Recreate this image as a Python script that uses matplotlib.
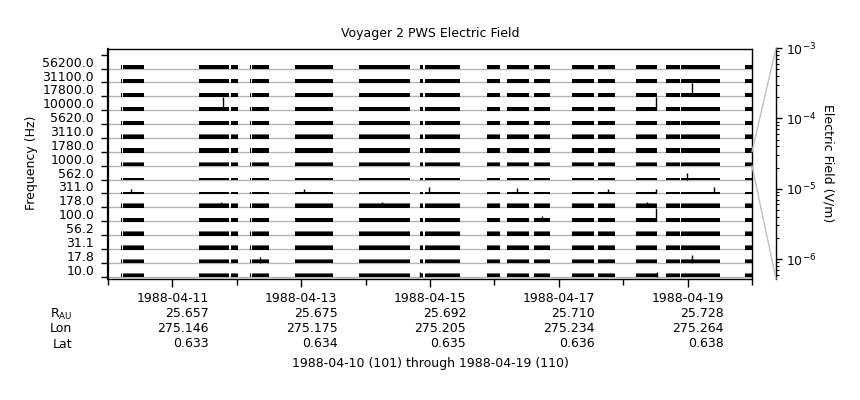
import numpy as np
import matplotlib
matplotlib.use('Agg')
import matplotlib.pyplot as plt
from matplotlib.patches import ConnectionPatch
from matplotlib.ticker import LogLocator, NullFormatter, FixedLocator

plt.rcParams['font.family'] = 'DejaVu Sans'
FONT = 9

# ── Data ──────────────────────────────────────────────────────────────────────
freq_labels = ['56200.0', '31100.0', '17800.0', '10000.0', '5620.0', '3110.0',
               '1780.0', '1000.0', '562.0', '311.0', '178.0', '100.0',
               '56.2', '31.1', '17.8', '10.0']

# data segments, days since 1988-04-10 00:00
seg_start = [0.20, 0.23, 1.41, 1.91, 2.20, 2.24, 2.90, 3.90, 4.84, 4.92,
             5.89, 6.20, 6.61, 7.20, 7.61, 8.20, 8.66, 8.90, 9.89]
seg_end   = [0.22, 0.56, 1.88, 2.02, 2.22, 2.50, 3.49, 4.69, 4.89, 5.47,
             6.09, 6.54, 6.86, 7.55, 7.87, 8.52, 8.88, 9.50, 10.00]

# typical trace level (black) and noise spread (grey) per channel, band units
level = [0.24, 0.24, 0.24, 0.22, 0.24, 0.21, 0.24, 0.20,
         0.09, 0.07, 0.21, 0.20, 0.20, 0.22, 0.20, 0.20]
spread = [0.0, 0.0, 0.0, 0.04, 0.0, 0.04, 0.0, 0.05,
          0.03, 0.03, 0.08, 0.0, 0.07, 0.03, 0.07, 0.07]

# isolated spikes
spike_chan = ['10000.0', '10000.0', '17800.0', '100.0', '562.0', '311.0',
              '311.0', '17.8', '10.0', '311.0', '311.0', '178.0', '17.8',
              '311.0', '311.0', '178.0', '10.0', '311.0', '178.0', '100.0']
spike_day = [1.79, 8.51, 9.07, 8.51, 8.99, 9.41, 7.76, 9.07, 8.52, 0.35,
             3.04, 1.75, 2.36, 4.98, 6.35, 4.25, 4.84, 8.51, 8.37, 6.74]
spike_top = [0.95, 0.95, 0.95, 0.98, 0.45, 0.45, 0.30, 0.55, 0.35, 0.30,
             0.35, 0.35, 0.40, 0.45, 0.40, 0.35, 0.30, 0.30, 0.35, 0.40]

date_labels = ['1988-04-11', '1988-04-13', '1988-04-15', '1988-04-17', '1988-04-19']
date_pos = [1, 3, 5, 7, 9]
r_au = ['25.657', '25.675', '25.692', '25.710', '25.728']
lon = ['275.146', '275.175', '275.205', '275.234', '275.264']
lat = ['0.633', '0.634', '0.635', '0.636', '0.638']

# ── Figure ────────────────────────────────────────────────────────────────────
W, H = 860, 400
fig = plt.figure(figsize=(W / 100, H / 100), dpi=100)
ax = fig.add_axes([108 / W, 1 - 279 / H, 644 / W, (279 - 48.5) / H])

n = len(freq_labels)
bands = [(s, e - s) for s, e in zip(seg_start, seg_end)]
for i, lab in enumerate(freq_labels):
    k = n - 1 - i
    ax.axhline(k, color='#b4b4b4', lw=1, zorder=1)
    if spread[i] > 0:
        ax.broken_barh(bands, (k + level[i] - 0.01, spread[i] + 0.01),
                       facecolors='#6e6e6e', lw=0, zorder=2)
    ax.broken_barh(bands, (k - 0.05, level[i] + 0.05), facecolors='black',
                   lw=0, zorder=3)

for ch, d, top in zip(spike_chan, spike_day, spike_top):
    k = n - 1 - freq_labels.index(ch)
    ax.vlines(d, k, k + top, color='black', lw=1, zorder=4)

ax.set_xlim(0, 10)
ax.set_ylim(-0.17, 16.45)

# y axis: band edges as ticks, channel names between them
ax.yaxis.set_major_locator(FixedLocator(np.arange(n + 1)))
ax.yaxis.set_major_formatter(NullFormatter())
ax.yaxis.set_minor_locator(FixedLocator(np.arange(n) + 0.5))
ax.set_yticklabels(freq_labels[::-1], minor=True, fontsize=FONT)
ax.tick_params(axis='y', which='major', direction='out', length=5, width=1)
ax.tick_params(axis='y', which='minor', length=0, pad=10)

# x axis with ephemeris rows
xlab = [f'{d}\n{r}\n{lo}\n{la}' for d, r, lo, la in zip(date_labels, r_au, lon, lat)]
ax.set_xticks(date_pos)
ax.set_xticklabels(xlab, fontsize=FONT, multialignment='right', linespacing=1.22)
ax.set_xticks([0, 2, 4, 6, 8, 10], minor=True)
ax.tick_params(axis='x', which='major', direction='out', length=6, width=1, pad=3)
ax.tick_params(axis='x', which='minor', direction='out', length=4.5, width=1)
for s in ax.spines.values():
    s.set_linewidth(1)
ax.spines['left'].set_linewidth(1.6)

for txt, yp in zip(['R$_{\\mathrm{AU}}$', 'Lon', 'Lat'], [314, 329, 344]):
    fig.text(72 / W, 1 - yp / H, txt, ha='right', va='center', fontsize=FONT)

fig.text(430 / W, 1 - 364 / H, '1988-04-10 (101) through 1988-04-19 (110)',
         ha='center', va='center', fontsize=FONT)
fig.text(430 / W, 1 - 34 / H, 'Voyager 2 PWS Electric Field',
         ha='center', va='center', fontsize=FONT)
fig.text(32 / W, 1 - 163 / H, 'Frequency (Hz)', rotation=90,
         ha='center', va='center', fontsize=FONT)

# amplitude key axis on the right
ax2 = fig.add_axes([770 / W, 1 - 279 / H, 6 / W, (279 - 48) / H])
ax2.patch.set_visible(False)
for side in ['left', 'top', 'bottom']:
    ax2.spines[side].set_visible(False)
ax2.spines['right'].set_linewidth(1)
ax2.set_yscale('log')
ax2.set_ylim(5.2e-7, 1e-3)
ax2.set_xticks([])
ax2.yaxis.tick_right()
ax2.yaxis.set_major_locator(LogLocator(base=10))
ax2.yaxis.set_minor_locator(LogLocator(base=10, subs=np.arange(2, 10)))
ax2.yaxis.set_minor_formatter(NullFormatter())
ax2.tick_params(axis='y', which='major', direction='out', length=4, width=1,
                labelsize=FONT, pad=3)
ax2.tick_params(axis='y', which='minor', direction='out', length=2.5, width=0.8)
fig.text(828 / W, 1 - 163 / H, 'Electric Field (V/m)', rotation=270,
         ha='center', va='center', fontsize=FONT)

# connect the 1000 Hz band to the key axis
k_ref = n - 1 - freq_labels.index('1000.0')
for yk, yb in [(k_ref + 1, 1), (k_ref, 0)]:
    con = ConnectionPatch(xyA=(10, yk), coordsA='data', axesA=ax,
                          xyB=(1, yb), coordsB='axes fraction', axesB=ax2,
                          color='#c0c0c0', lw=1)
    fig.add_artist(con)

fig.savefig('out.png', dpi=100)
